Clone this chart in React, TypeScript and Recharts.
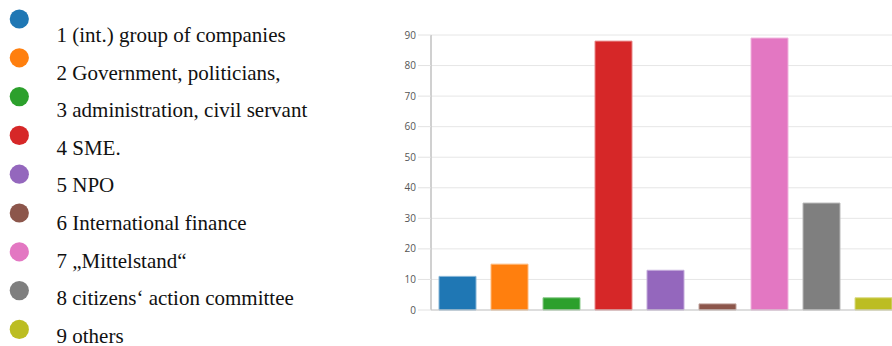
import React from "react";
import { BarChart, Bar, Cell, XAxis, YAxis, CartesianGrid } from "recharts";

// stakeholder groups, counts and tab10 colours
const groups = [
  "1 (int.) group of companies",
  "2 Government, politicians,",
  "3 administration, civil servant",
  "4 SME.",
  "5 NPO",
  "6 International finance",
  "7 \u201EMittelstand\u201C",
  "8 citizens\u2018 action committee",
  "9 others",
];
const counts = [11, 15, 4, 88, 13, 2, 89, 35, 4];
const colors = ["#1f77b4", "#ff7f0e", "#2ca02c", "#d62728", "#9467bd", "#8c564b", "#e377c2", "#7f7f7f", "#bcbd22"];
const yTicks = [0, 10, 20, 30, 40, 50, 60, 70, 80, 90];
const boundaryTicks = [0, 1, 2, 3, 4, 5, 6, 7, 8, 9];

const data = groups.map((g, i) => ({ key: String(i + 1), label: g, value: counts[i] }));

function lighten(hex: string, amt: number) {
  const n = parseInt(hex.slice(1), 16);
  const mix = (c: number) => Math.round(c + (255 - c) * amt);
  const r = mix((n >> 16) & 255), g = mix((n >> 8) & 255), b = mix(n & 255);
  return `rgb(${r},${g},${b})`;
}

function LegendList() {
  return (
    <svg width={380} height={346} style={{ position: "absolute", left: 0, top: 0 }}>
      {groups.map((g, i) => (
        <g key={g}>
          <circle cx={19.3} cy={19 + i * 38.8} r={9.6} fill={colors[i]} />
          <text
            x={56.5}
            y={42 + i * 37.6}
            fontFamily="'Liberation Serif', 'Times New Roman', serif"
            fontSize={21}
            fill="#111"
          >
            {g}
          </text>
        </g>
      ))}
    </svg>
  );
}

export default function App() {
  return (
    <div style={{ position: "absolute", left: 0, top: 0, width: 892, height: 346, overflow: "hidden", background: "#fff" }}>
      <LegendList />
      <div style={{ position: "absolute", left: 0, top: 0 }}>
        <BarChart width={900} height={346} data={data} margin={{ top: 35, right: 1, left: 391, bottom: 24 }}>
          <CartesianGrid stroke="#e6e6e6" />
          <XAxis
            type="number"
            domain={[0, 9]}
            ticks={boundaryTicks}
            tick={false}
            tickSize={12}
            height={12}
            tickLine={{ stroke: "#e2e2e2" }}
            axisLine={{ stroke: "#c8c8c8" }}
            allowDataOverflow
          />
          <XAxis xAxisId="cat" dataKey="key" hide />
          <YAxis
            domain={[0, 90]}
            ticks={yTicks}
            width={40}
            tickSize={13}
            tickMargin={2}
            tickLine={{ stroke: "#e2e2e2" }}
            axisLine={{ stroke: "#c4c4c4", strokeWidth: 1.5 }}
            tick={{ fontSize: 10, fill: "#555", fontFamily: "'Open Sans', sans-serif" }}
          />
          <Bar dataKey="value" xAxisId="cat" barSize={37} isAnimationActive={false}>
            {data.map((d, i) => (
              <Cell key={d.key} fill={colors[i]} stroke={lighten(colors[i], 0.45)} strokeWidth={1} />
            ))}
          </Bar>
        </BarChart>
      </div>
    </div>
  );
}
